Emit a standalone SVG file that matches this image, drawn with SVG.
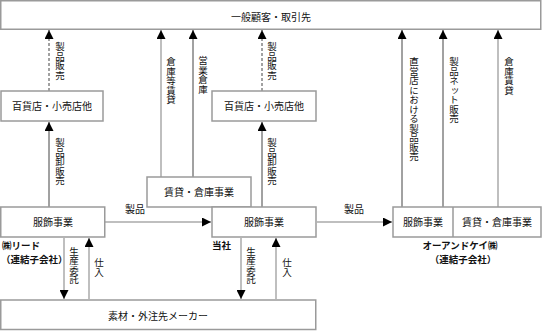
<svg xmlns="http://www.w3.org/2000/svg" width="544" height="331" viewBox="0 0 544 331">
<style>
text{font-family:"Noto Sans CJK JP","Liberation Sans",sans-serif;font-size:10px;fill:#111}
.c{text-anchor:middle}
.v{writing-mode:vertical-rl;text-orientation:upright;font-size:9.5px}
.s{letter-spacing:-0.4px}
.b{font-weight:bold;font-size:9.5px}
.box{fill:#fff;stroke:#9a9a9a;stroke-width:1.5}
.ln{fill:none;stroke:#444;stroke-width:1}
.lg{fill:none;stroke:#aaa;stroke-width:1.5}
.ld{fill:none;stroke:#444;stroke-width:1;stroke-dasharray:3,2}
</style>
<defs>
<marker id="ah" viewBox="0 0 10 10" refX="10" refY="5" markerWidth="9" markerHeight="9" markerUnits="userSpaceOnUse" orient="auto"><path d="M0,0L10,5L0,10Z" fill="#000"/></marker>
<marker id="ahg" viewBox="0 0 10 10" refX="10" refY="5" markerWidth="6" markerHeight="6" orient="auto"><path d="M0,0L10,5L0,10Z" fill="#000"/></marker>
</defs>
<g id="connectors">
<line class="ld" x1="49" y1="91" x2="49" y2="30" marker-end="url(#ah)"/>
<line class="ld" x1="262" y1="91" x2="262" y2="30" marker-end="url(#ah)"/>
<line class="lg" x1="161" y1="177" x2="161" y2="30" marker-end="url(#ahg)"/>
<line class="ln" x1="193" y1="177" x2="193" y2="30" marker-end="url(#ah)"/>
<line class="ln" x1="402" y1="207" x2="402" y2="30" marker-end="url(#ah)"/>
<line class="ln" x1="443" y1="207" x2="443" y2="30" marker-end="url(#ah)"/>
<line class="lg" x1="498" y1="207" x2="498" y2="30" marker-end="url(#ahg)"/>
<line class="ln" x1="49" y1="207" x2="49" y2="122" marker-end="url(#ah)"/>
<line class="ln" x1="262" y1="207" x2="262" y2="122" marker-end="url(#ah)"/>
<line class="lg" x1="105" y1="222" x2="211" y2="222" marker-end="url(#ahg)"/>
<line class="lg" x1="317" y1="222" x2="392" y2="222" marker-end="url(#ahg)"/>
<line class="lg" x1="64" y1="238" x2="64" y2="299" marker-end="url(#ahg)"/>
<line class="lg" x1="89" y1="299" x2="89" y2="238" marker-end="url(#ahg)"/>
<line class="lg" x1="241" y1="238" x2="241" y2="299" marker-end="url(#ahg)"/>
<line class="lg" x1="276" y1="299" x2="276" y2="238" marker-end="url(#ahg)"/>
</g>
<g id="customers"><rect class="box" x="0.75" y="0.75" width="540" height="28.5"/><text class="c" x="271" y="21">一般顧客・取引先</text></g>
<g id="store-left"><rect class="box" x="1" y="91" width="102" height="30"/><text class="c" x="52" y="110">百貨店・小売店他</text></g>
<g id="store-right"><rect class="box" x="212" y="91" width="104" height="30"/><text class="c" x="264" y="110">百貨店・小売店他</text></g>
<g id="rental"><rect class="box" x="147" y="177" width="104" height="30"/><text class="c" x="199" y="196">賃貸・倉庫事業</text></g>
<g id="lead"><rect class="box" x="0.75" y="207" width="104" height="30"/><text class="c" x="53" y="226">服飾事業</text></g>
<g id="company"><rect class="box" x="212" y="207" width="104" height="30"/><text class="c" x="264" y="226">服飾事業</text></g>
<g id="oandk"><rect class="box" x="393" y="207" width="148" height="30"/><line x1="453" y1="207" x2="453" y2="237" stroke="#9a9a9a" stroke-width="1.5"/><text class="c" x="423" y="226">服飾事業</text><text class="c" x="497" y="226">賃貸・倉庫事業</text></g>
<g id="makers"><rect class="box" x="0.75" y="300" width="315" height="29.5"/><text class="c" x="158" y="320">素材・外注先メーカー</text></g>
<g id="labels">
<text class="v" x="60" y="42">製品販売</text>
<text class="v" x="272" y="42">製品販売</text>
<text class="v" x="171" y="57">倉庫等賃貸</text>
<text class="v" x="203" y="56">営業倉庫</text>
<text class="v" x="414" y="57">直営店における製品販売</text>
<text class="v" x="454" y="57">製品ネット販売</text>
<text class="v" x="509" y="57">倉庫賃貸</text>
<text class="v" x="60" y="138">製品卸販売</text>
<text class="v" x="272" y="138">製品卸販売</text>
<text class="c" x="135" y="213">製品</text>
<text class="c" x="354" y="213">製品</text>
<text class="v s" x="74" y="247">生産委託</text>
<text class="v" x="99" y="258">仕入</text>
<text class="v s" x="251" y="247">生産委託</text>
<text class="v" x="287" y="258">仕入</text>
<text class="b" x="2" y="249">㈱リード</text>
<text class="b" x="1" y="263">（連結子会社）</text>
<text class="b" x="212" y="249">当社</text>
<text class="b c" x="460" y="249">オーアンドケイ㈱</text>
<text class="b c" x="463" y="263">（連結子会社）</text>
</g>
</svg>
